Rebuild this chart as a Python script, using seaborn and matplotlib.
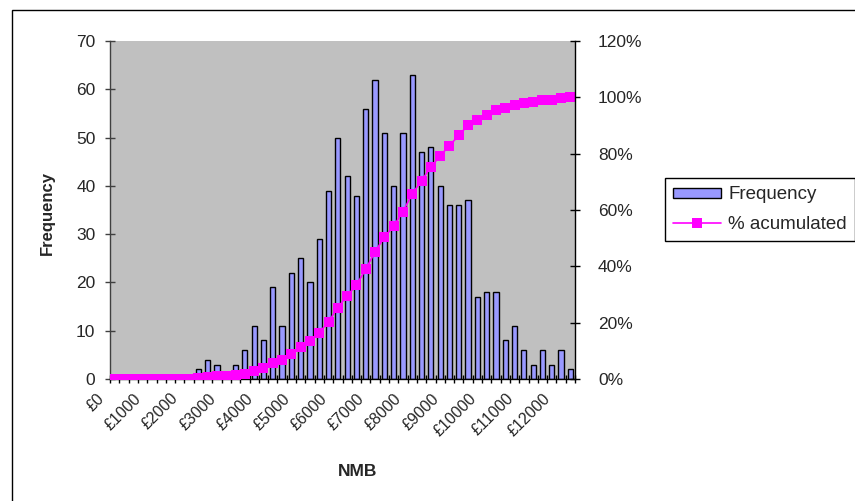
import numpy as np
import pandas as pd
import matplotlib
matplotlib.use("Agg")
import matplotlib.pyplot as plt
import seaborn as sns
from matplotlib.transforms import ScaledTranslation
from matplotlib.patches import Rectangle, Patch
from matplotlib.lines import Line2D
from matplotlib.ticker import PercentFormatter, FixedLocator

# NMB bins (£250 wide) and simulated frequency in each bin
nmb_bins = list(range(0, 12500, 250))
frequency = [0, 0, 0, 0, 0, 0, 0, 0, 0, 2,
             4, 3, 1, 3, 6, 11, 8, 19, 11, 22,
             25, 20, 29, 39, 50, 42, 38, 56, 62, 51,
             40, 51, 63, 47, 48, 40, 36, 36, 37, 17,
             18, 18, 8, 11, 6, 3, 6, 3, 6, 2]
nmb_labels = [f"£{v}" for v in nmb_bins]
label_step = 4

freq_ticks = list(range(0, 80, 10))
pct_ticks = [0, 0.2, 0.4, 0.6, 0.8, 1.0, 1.2]

bar_color = "#9999FF"
line_color = "#FF00FF"
plot_bg = "#C0C0C0"

sns.set_theme(style="white")
plt.rcParams["font.family"] = ["Liberation Sans", "DejaVu Sans"]

df = pd.DataFrame({"NMB": nmb_labels, "Frequency": frequency})
df["Accumulated"] = np.cumsum(df["Frequency"]) / df["Frequency"].sum()
df["pos"] = np.arange(len(df))

W, H = 855, 501
fig = plt.figure(figsize=(W / 100, H / 100), dpi=100)
ax = fig.add_axes([110 / W, 122 / H, 465 / W, 338 / H])
ax.set_facecolor(plot_bg)

sns.barplot(data=df, x="NMB", y="Frequency", order=nmb_labels, color=bar_color,
            saturation=1, edgecolor="black", linewidth=1, width=0.55,
            errorbar=None, ax=ax)

ax2 = ax.twinx()
sns.lineplot(data=df, x="pos", y="Accumulated", ax=ax2, color=line_color,
             linewidth=1.2, marker="s", markersize=7.3, markeredgewidth=0)

n = len(df)
ax.set_xlim(-0.5, n - 0.5)
ax.set_ylim(0, 70)
ax2.set_ylim(0, 1.2)

# left axis
ax.set_yticks(freq_ticks)
ax.tick_params(axis="y", direction="inout", length=7, width=1, color="#404040",
               labelsize=12.5, pad=7, left=True)
# right axis
ax2.set_yticks(pct_ticks)
ax2.yaxis.set_major_formatter(PercentFormatter(1.0, decimals=0))
ax2.tick_params(axis="y", direction="inout", length=7, width=1, color="black",
                labelsize=12.5, pad=13, right=True)

# category axis: boundary ticks plus every 4th label
ax.xaxis.set_major_locator(FixedLocator(list(range(0, n, label_step))))
ax.set_xticklabels(nmb_labels[::label_step])
ax.xaxis.set_minor_locator(FixedLocator(list(np.arange(-0.5, n, 1.0))))
ax.tick_params(axis="x", which="major", length=0, pad=0, labelsize=11.5)
ax.tick_params(axis="x", which="minor", direction="inout", length=6, width=1,
               color="black", bottom=True)
for lab in ax.get_xticklabels():
    lab.set_rotation(45)
    lab.set_ha("right")
    lab.set_va("center")
    lab.set_rotation_mode("anchor")
    lab.set_transform(lab.get_transform() +
                      ScaledTranslation(-0.13, -0.17, fig.dpi_scale_trans))

for s in ["top", "right"]:
    ax.spines[s].set_visible(False)
ax.spines["left"].set_color("#404040")
ax.spines["left"].set_linewidth(1)
ax.spines["bottom"].set_color("black")
ax.spines["bottom"].set_linewidth(1)
for s in ["top", "left", "bottom"]:
    ax2.spines[s].set_visible(False)
ax2.spines["right"].set_color("black")
ax2.spines["right"].set_linewidth(1)

ax.set_xlabel("")
ax2.set_ylabel("")
ax.set_ylabel("Frequency", fontweight="bold", fontsize=12)
ax.yaxis.set_label_coords((55 - 110) / 465, 0.49)
fig.text(358 / W, 1 - 472 / H, "NMB", ha="center", va="center",
         fontweight="bold", fontsize=12.5)

handles = [
    Patch(facecolor=bar_color, edgecolor="black", linewidth=1, label="Frequency"),
    Line2D([], [], color=line_color, linewidth=1.2, marker="s", markersize=7,
           markeredgewidth=0, label="% acumulated"),
]
leg = fig.legend(handles=handles, loc="upper left",
                 bbox_to_anchor=(665 / W, 1 - 178 / H), frameon=True,
                 fancybox=False, edgecolor="black", framealpha=1,
                 fontsize=13.5, borderpad=0.45, handlelength=2.56,
                 handleheight=0.45, labelspacing=0.65, handletextpad=0.37,
                 borderaxespad=0)
leg.get_frame().set_linewidth(1)

# chart border
fig.patches.append(Rectangle((12 / W, -0.05), 1.0, 1 - 10 / H + 0.05,
                             transform=fig.transFigure, fill=False,
                             edgecolor="black", linewidth=1))

fig.savefig("out.png", dpi=100)
